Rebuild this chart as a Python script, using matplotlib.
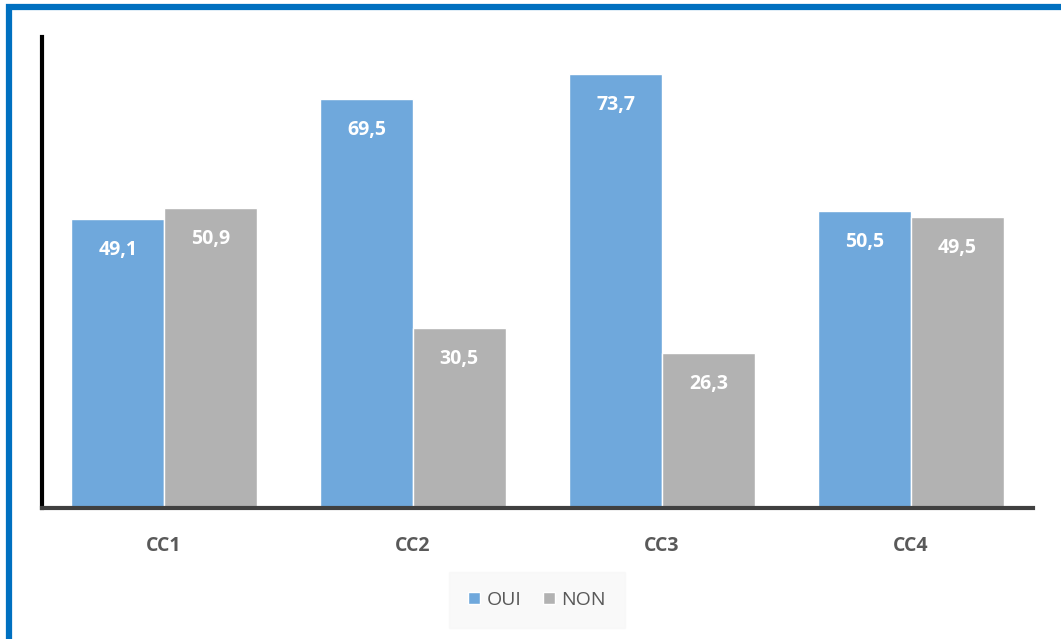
import matplotlib

matplotlib.use("Agg")
import matplotlib.pyplot as plt
import numpy as np
from matplotlib.patches import Rectangle

categories = ["CC1", "CC2", "CC3", "CC4"]
oui = [49.1, 69.5, 73.7, 50.5]
non = [50.9, 30.5, 26.3, 49.5]
series_names = ["OUI", "NON"]

BLUE = "#6FA8DC"
GRAY = "#B2B2B2"
TEXT = "#595959"

plt.rcParams["font.family"] = ["Open Sans", "DejaVu Sans"]

W, H = 1061, 639
fig = plt.figure(figsize=(W / 100, H / 100), dpi=100)
ax = fig.add_axes([42 / W, 1 - 508 / H, (1033 - 42) / W, (508 - 37) / H])

x = np.arange(len(categories))
width = 0.372
b1 = ax.bar(x - width / 2, oui, width, color=BLUE, edgecolor="white", linewidth=1, label=series_names[0])
b2 = ax.bar(x + width / 2, non, width, color=GRAY, edgecolor="white", linewidth=1, label=series_names[1])

for bars, vals in ((b1, oui), (b2, non)):
    for rect, v in zip(bars, vals):
        ax.annotate(f"{v:.1f}".replace(".", ","),
                    (rect.get_x() + rect.get_width() / 2, v),
                    xytext=(0, -31), textcoords="offset pixels",
                    ha="center", va="center", color="white",
                    fontsize=14, fontweight="bold")

ax.set_xlim(-0.49, 3.49)
ax.set_ylim(0, 80)
ax.set_yticks([])
ax.set_xticks(x)
ax.set_xticklabels(categories, fontsize=14, fontweight="bold", color=TEXT)
ax.tick_params(axis="x", length=0, pad=20)
for s in ("top", "right"):
    ax.spines[s].set_visible(False)
ax.spines["left"].set_linewidth(3)
ax.spines["left"].set_color("black")
ax.spines["bottom"].set_linewidth(3)
ax.spines["bottom"].set_color("#404040")

leg = fig.legend(loc="center", bbox_to_anchor=(537 / W, 1 - 600 / H), ncol=2,
                 frameon=True, fontsize=14, handlelength=0.6, handleheight=0.6,
                 handletextpad=0.35, columnspacing=1.1, borderpad=0.7)
leg.get_frame().set_facecolor("#F8F8F8")
leg.get_frame().set_edgecolor("#F8F8F8")
leg.get_frame().set_boxstyle("square")
for t in leg.get_texts():
    t.set_color(TEXT)

# blue frame around the figure (only left and top edges visible)
fig.add_artist(Rectangle((8.5 / W, -0.1), 1.2, 1 - 7 / H + 0.1,
                         transform=fig.transFigure, fill=False,
                         edgecolor="#0070C0", linewidth=4.5))

fig.savefig("out.png", dpi=100)
